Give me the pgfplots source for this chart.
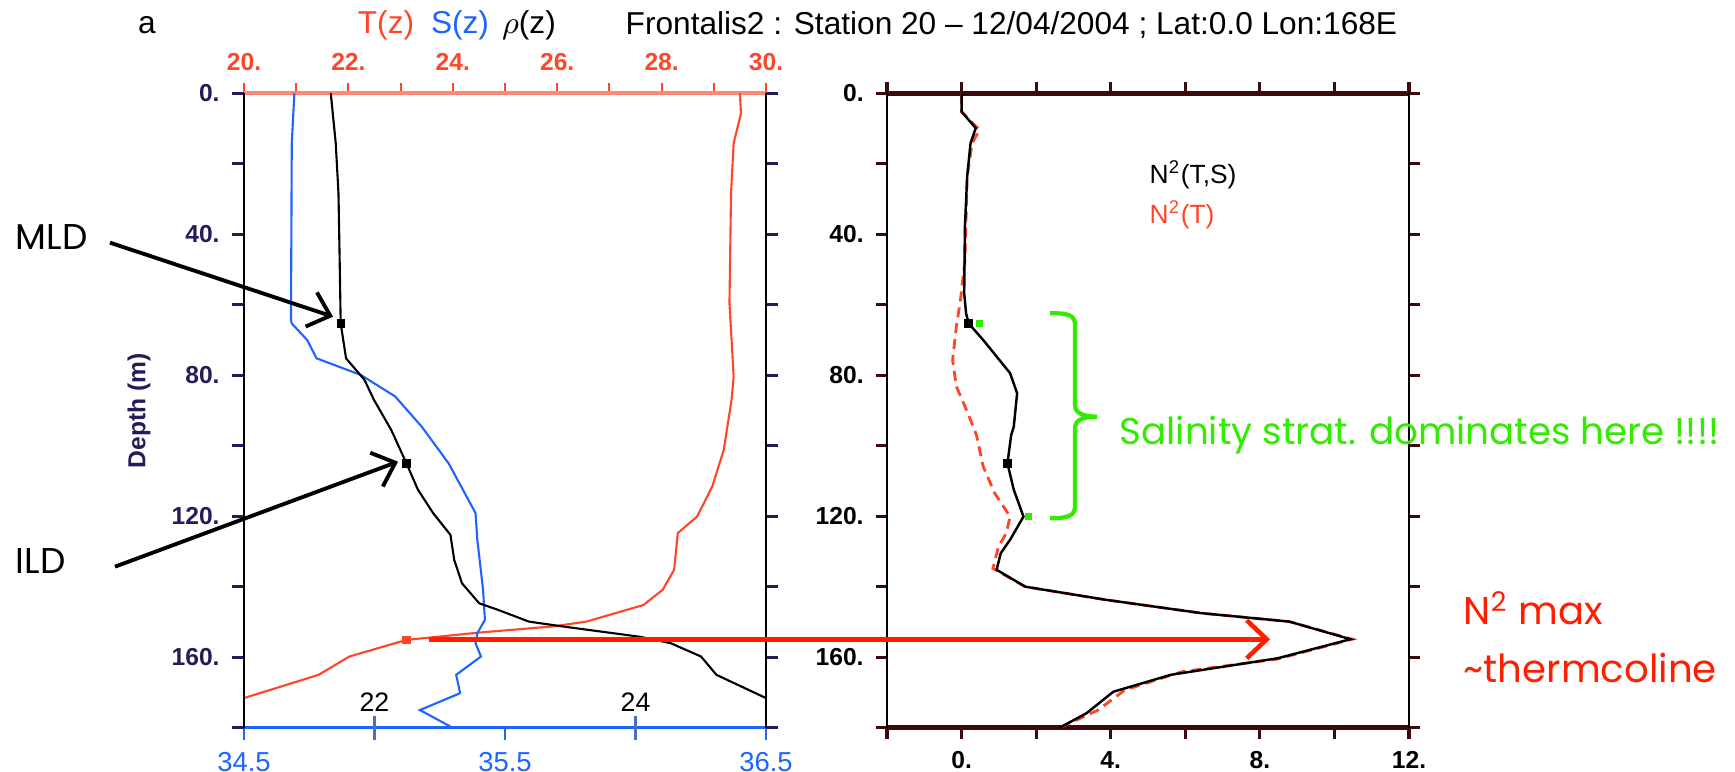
\documentclass[border=0pt]{standalone}
\usepackage{fontspec}
\setmainfont{Liberation Sans}
\newfontfamily\pop{Poppins}
\usepackage{pgfplots}
\pgfplotsset{compat=1.18}
\usetikzlibrary{arrows.meta}

\definecolor{tred}{RGB}{255,70,40}
\definecolor{taxis}{RGB}{255,135,120}
\definecolor{sblue}{RGB}{30,100,255}
\definecolor{navy}{RGB}{40,25,90}
\definecolor{brn}{RGB}{60,10,10}
\definecolor{grn}{RGB}{50,235,0}
\definecolor{annred}{RGB}{255,30,0}

\tikzset{tickfont/.style={font=\fontsize{7}{8}\selectfont\bfseries}}
\pgfplotsset{
  panel/.style={anchor=south west, width=52.2mm, height=63.44mm, scale only axis,
    ymin=0, ymax=180, y dir=reverse, tick align=outside},
}

\begin{document}
\begin{tikzpicture}
\path[use as bounding box] (0,0) rectangle (173.5mm,77.2mm);

% left panel: temperature (top axis)
\begin{axis}[panel, at={(24.4mm,4.43mm)},
  xmin=20, xmax=30,
  axis x line*=top, axis y line=none,
  x axis line style={taxis, line width=1.2pt},
  xtick={20,...,30}, xticklabels={20.,,22.,,24.,,26.,,28.,,30.},
  xtick style={tred, line width=0.6pt}, major tick length=1mm,
  xticklabel style={tred, tickfont},
]
\addplot[tred, line width=0.6pt] coordinates {
 (29.50,0) (29.52,5.7) (29.38,14.2) (29.33,28.4) (29.30,59.6) (29.38,80.4)
 (29.34,87) (29.22,98.4) (29.19,101.2) (28.97,111.6) (28.68,120.1) (28.31,124.8)
 (28.24,135.2) (28.02,140.9) (27.65,145.2) (26.56,149.9) (25.90,151.3)
 (24.51,153) (23.11,155.1) (22.02,159.8) (21.43,165) (20.0,171.6)
};
\addplot[only marks, mark=square*, mark size=0.35mm, tred] coordinates {(23.11,155.1)};
\end{axis}

% left panel: salinity (bottom axis) + depth axes
\begin{axis}[panel, at={(24.4mm,4.43mm)},
  xmin=34.5, xmax=36.5,
  axis x line*=bottom, axis y line*=box, separate axis lines,
  x axis line style={sblue, line width=0.9pt},
  y axis line style={black, line width=0.6pt},
  xtick={34.5,35.5,36.5}, xticklabels={34.5,35.5,36.5},
  xtick style={sblue, line width=0.6pt},
  xticklabel style={sblue, font=\fontsize{7.8}{9}\selectfont},
  ytick={0,20,...,180}, yticklabels={0.,,40.,,80.,,120.,,160.,},
  ytick style={navy, line width=0.9pt}, major tick length=1.2mm,
  yticklabel style={navy, tickfont},
]
\addplot[sblue, line width=0.6pt] coordinates {
 (34.693,0) (34.683,14.2) (34.680,64.3) (34.683,65.3) (34.742,70) (34.778,75.2)
 (34.947,79.9) (35.079,86) (35.181,94.6) (35.284,105) (35.387,119.1)
 (35.394,126.7) (35.416,140.9) (35.423,149.4) (35.394,153.2) (35.387,156)
 (35.408,159.8) (35.313,165) (35.328,170.2) (35.174,175) (35.299,180)
};
\end{axis}

% left panel: density (inner ticks)
\begin{axis}[panel, at={(24.4mm,4.43mm)},
  xmin=21, xmax=25,
  axis x line*=bottom, axis y line=none,
  x axis line style={draw=none},
  tick align=center,
  xtick={22,24}, xticklabels={22,24},
  xtick style={sblue!55!gray, line width=1pt}, major tick length=2.4mm,
  xticklabel style={black, anchor=south, yshift=1.55mm, font=\fontsize{7.6}{8}\selectfont},
]
\addplot[black, line width=0.6pt] coordinates {
 (21.665,0) (21.703,14.2) (21.724,28.4) (21.733,47.3) (21.741,65.3) (21.782,75.2)
 (21.923,81.3) (21.996,87) (22.128,95.5) (22.245,105) (22.333,112.5)
 (22.451,119.2) (22.582,125.3) (22.611,132.4) (22.670,139) (22.802,144.7)
 (22.949,146.6) (23.183,149.9) (23.447,151.3) (24.033,154.2) (24.268,156)
 (24.502,159.8) (24.62,165) (25.0,171.6)
};
\addplot[only marks, mark=square*, mark size=0.35mm, black] coordinates {(21.741,65.3) (22.245,105)};
\end{axis}

% right panel: N^2
\begin{axis}[panel, at={(88.7mm,4.43mm)},
  xmin=-2, xmax=12,
  separate axis lines,
  x axis line style={brn, line width=1.4pt},
  y axis line style={black, line width=0.6pt},
  xtick={-2,0,...,12}, xticklabels={,0.,,4.,,8.,,12.},
  ytick={0,20,...,180}, yticklabels={0.,,40.,,80.,,120.,,160.,},
  tick style={brn, line width=0.9pt}, major tick length=1.1mm,
  ticklabel style={black, tickfont},
]
\addplot[tred, line width=0.8pt, dash pattern=on 1mm off 0.6mm] coordinates {
 (0,0) (0,5.2) (0.48,10.4) (0.28,14.2) (0.15,23.6) (0.09,47.3) (-0.03,58.6)
 (-0.14,66.2) (-0.24,75.7) (-0.14,83.2) (0.17,90.8) (0.40,97) (0.58,105.9)
 (0.89,113.5) (1.30,120.1) (1.20,124.8) (0.99,128.6) (0.84,134.8) (1.71,140)
 (3.86,143.7) (6.43,147.5) (8.79,149.9) (10.48,154.9) (8.48,160.5) (5.92,164.1)
 (4.38,169.3) (3.66,175) (2.63,180)
};
\addplot[black, line width=0.7pt] coordinates {
 (0,0) (0,5.2) (0.38,9.9) (0.24,14.2) (0.15,23.6) (0.09,37.8) (0.07,56.7)
 (0.12,62.4) (0.19,65.3) (0.58,70) (1.30,79.4) (1.49,85.1) (1.40,94.6)
 (1.33,97) (1.23,105) (1.40,112.5) (1.66,120.1) (1.30,126.7) (1.05,130.5)
 (0.94,135.2) (1.71,140) (3.86,143.7) (6.43,147.5) (8.79,149.9) (10.43,154.9)
 (8.48,160.3) (5.61,165) (4.07,169.8) (3.35,175.9) (2.63,180)
};
\addplot[only marks, mark=square*, mark size=0.35mm, black] coordinates {(0.19,65.3) (1.23,105)};
\addplot[only marks, mark=square*, mark size=0.3mm, grn] coordinates {(0.48,65.3) (1.79,120.1)};
\end{axis}

\begin{scope}[x=0.1mm,y=0.1mm]
% titles
\begin{scope}[font=\fontsize{9}{10}\selectfont]
\node at (147,747) {a};
\node[tred] at (386,747) {T(z)};
\node[sblue] at (460,747) {S(z)};
\node at (529,747) {$\rho$(z)};
\node[anchor=west, inner sep=0] at (625,747) {Frontalis2 : Station 20 -- 12/04/2004 ; Lat:0.0 Lon:168E};
\end{scope}
\node[rotate=90, navy, tickfont] at (139,361) {Depth (m)};

% legend of right panel
\node[anchor=west, inner sep=0, font=\fontsize{7.5}{9}\selectfont] at (1149,597) {N\textsuperscript{2}(T,S)};
\node[anchor=west, inner sep=0, tred, font=\fontsize{7.5}{9}\selectfont] at (1149,557) {N\textsuperscript{2}(T)};

% annotations
\begin{scope}[font=\pop\fontsize{10.2}{12}\selectfont]
\node[anchor=west, inner sep=0] at (15,535) {MLD};
\node[anchor=west, inner sep=0] at (15,211) {ILD};
\end{scope}
\draw[line width=1.1pt, -{Straight Barb[length=2mm,width=3.6mm]}] (110,529.3) -- (333,455.3);
\draw[line width=1.1pt, -{Straight Barb[length=2mm,width=3.6mm]}] (115,205.3) -- (398,310.3);
\draw[annred, line width=1.3pt, -{Straight Barb[length=2mm,width=3.8mm]}] (428.8,132.7) -- (1270,132.7);

\draw[grn, line width=1.2pt]
  (1050,458.7) .. controls (1068,459) and (1075,457) .. (1075,447)
  -- (1075,367) .. controls (1075,358) and (1085,355.3) .. (1097,355.3)
  .. controls (1085,355.3) and (1075,353) .. (1075,344)
  -- (1075,266) .. controls (1075,256) and (1068,253.7) .. (1050,253.7);
\node[grn, anchor=base west, inner sep=0, font=\pop\fontsize{10.6}{12}\selectfont] at (1119,327) {Salinity strat. dominates here !!!!};
\node[annred, anchor=base west, inner sep=0, font=\pop\fontsize{11}{13}\selectfont] at (1463,147) {N\textsuperscript{2} max};
\node[annred, anchor=base west, inner sep=0, font=\pop\fontsize{11}{13}\selectfont] at (1463,89) {\textasciitilde thermcoline};
\end{scope}
\end{tikzpicture}
\end{document}
